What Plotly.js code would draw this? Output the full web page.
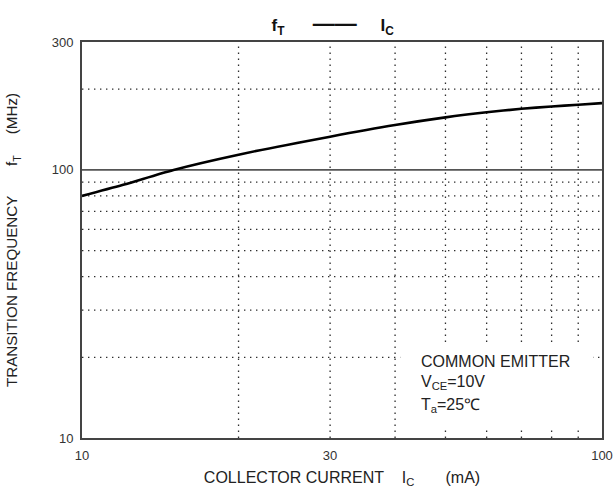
<!DOCTYPE html>
<html>
<head>
<meta charset="utf-8">
<script src="https://cdn.plot.ly/plotly-3.0.1.min.js"></script>
<style>
  html, body { margin: 0; padding: 0; background: #fff; }
  #chart { width: 614px; height: 488px; }
</style>
</head>
<body>
<div id="chart"></div>
<script>
// Data (log-log)
const collectorCurrent_mA = [10, 12, 15, 20, 30, 40, 50, 60, 70, 80, 90, 100];
const transitionFreq_MHz  = [80, 88, 100, 114, 133, 147, 157, 164, 169, 172.5, 175, 177.5];

// Axis tick labels and grid positions
const xTickVals = [10, 30, 100];
const xTickText = ['10', '30', '100'];
const yTickVals = [10, 100, 300];
const yTickText = ['10', '100', '300'];
const xGridVals = [20, 30, 40, 50, 60, 70, 80, 90];
const yGridVals = [20, 30, 40, 50, 60, 70, 80, 90, 200];
const ySolidGrid = [100];

const FONT = 'Liberation Sans, Arial, Helvetica, sans-serif';
const NB = '\u00a0';

const shapes = [];
xGridVals.forEach(v => shapes.push({
  type: 'line', layer: 'below', xref: 'x', yref: 'paper',
  x0: v, x1: v, y0: 0, y1: 1,
  line: { color: '#2e2e2e', width: 1.3, dash: '1.4px,4.6px' }
}));
yGridVals.forEach(v => shapes.push({
  type: 'line', layer: 'below', xref: 'paper', yref: 'y',
  x0: 0, x1: 1, y0: v, y1: v,
  line: { color: '#2e2e2e', width: 1.3, dash: '1.4px,4.6px' }
}));
ySolidGrid.forEach(v => shapes.push({
  type: 'line', layer: 'below', xref: 'paper', yref: 'y',
  x0: 0, x1: 1, y0: v, y1: v,
  line: { color: '#555555', width: 1.6 }
}));
// white box behind the conditions text
shapes.push({
  type: 'rect', layer: 'below', xref: 'paper', yref: 'paper',
  x0: 0.612, x1: 0.983, y0: 0.025, y1: 0.242,
  fillcolor: '#ffffff', line: { width: 0 }
});

const trace = {
  x: collectorCurrent_mA,
  y: transitionFreq_MHz,
  type: 'scatter',
  mode: 'lines',
  line: { color: '#000000', width: 2.6, shape: 'spline', smoothing: 0.8 },
  hoverinfo: 'skip'
};

const layout = {
  width: 614, height: 488,
  margin: { l: 82, r: 12, t: 42, b: 50, pad: 0 },
  paper_bgcolor: '#ffffff',
  plot_bgcolor: '#ffffff',
  showlegend: false,
  font: { family: FONT, color: '#222' },
  title: {
    text: '<b>f<sub>T</sub>' + NB.repeat(6) + '<span style="font-size:22px">——</span>' + NB.repeat(5) + 'I<sub>C</sub></b>',
    font: { family: FONT, size: 17, color: '#111' },
    x: 0.482, xanchor: 'center', xref: 'paper',
    y: 0.948, yanchor: 'middle', yref: 'container'
  },
  xaxis: {
    type: 'log', range: [1, 2],
    tickmode: 'array', tickvals: xTickVals, ticktext: xTickText,
    ticks: '', showgrid: false, zeroline: false,
    showline: true, mirror: true, linecolor: '#444', linewidth: 2,
    tickfont: { family: FONT, size: 13, color: '#333' },
    ticklabelstandoff: 4,
    title: {
      text: 'COLLECTOR CURRENT' + NB.repeat(4) + 'I<sub>C</sub>' + NB.repeat(7) + '(mA)',
      font: { family: FONT, size: 16, color: '#222' },
      standoff: 13
    }
  },
  yaxis: {
    type: 'log', range: [1, Math.log10(300)],
    tickmode: 'array', tickvals: yTickVals, ticktext: yTickText,
    ticks: '', showgrid: false, zeroline: false,
    showline: true, mirror: true, linecolor: '#444', linewidth: 2,
    tickfont: { family: FONT, size: 13, color: '#333' },
    ticklabelstandoff: 4,
    title: {
      text: 'TRANSITION FREQUENCY' + NB.repeat(7) + 'f<sub>T</sub>' + NB.repeat(5) + '(MHz)',
      font: { family: FONT, size: 15.2, color: '#222' },
      standoff: 30
    }
  },
  shapes: shapes,
  annotations: [
    { xref: 'paper', yref: 'paper', x: 0.648, y: 0.1927, xanchor: 'left', yanchor: 'middle',
      text: 'COMMON EMITTER', showarrow: false,
      font: { family: FONT, size: 16, color: '#222' } },
    { xref: 'paper', yref: 'paper', x: 0.648, y: 0.1396, xanchor: 'left', yanchor: 'middle',
      text: 'V<sub>CE</sub>=10V', showarrow: false,
      font: { family: FONT, size: 16, color: '#222' } },
    { xref: 'paper', yref: 'paper', x: 0.648, y: 0.0814, xanchor: 'left', yanchor: 'middle',
      text: 'T<sub>a</sub>=25℃', showarrow: false,
      font: { family: FONT, size: 16, color: '#222' } }
  ]
};

Plotly.newPlot('chart', [trace], layout, { displayModeBar: false, staticPlot: true });
</script>
</body>
</html>
